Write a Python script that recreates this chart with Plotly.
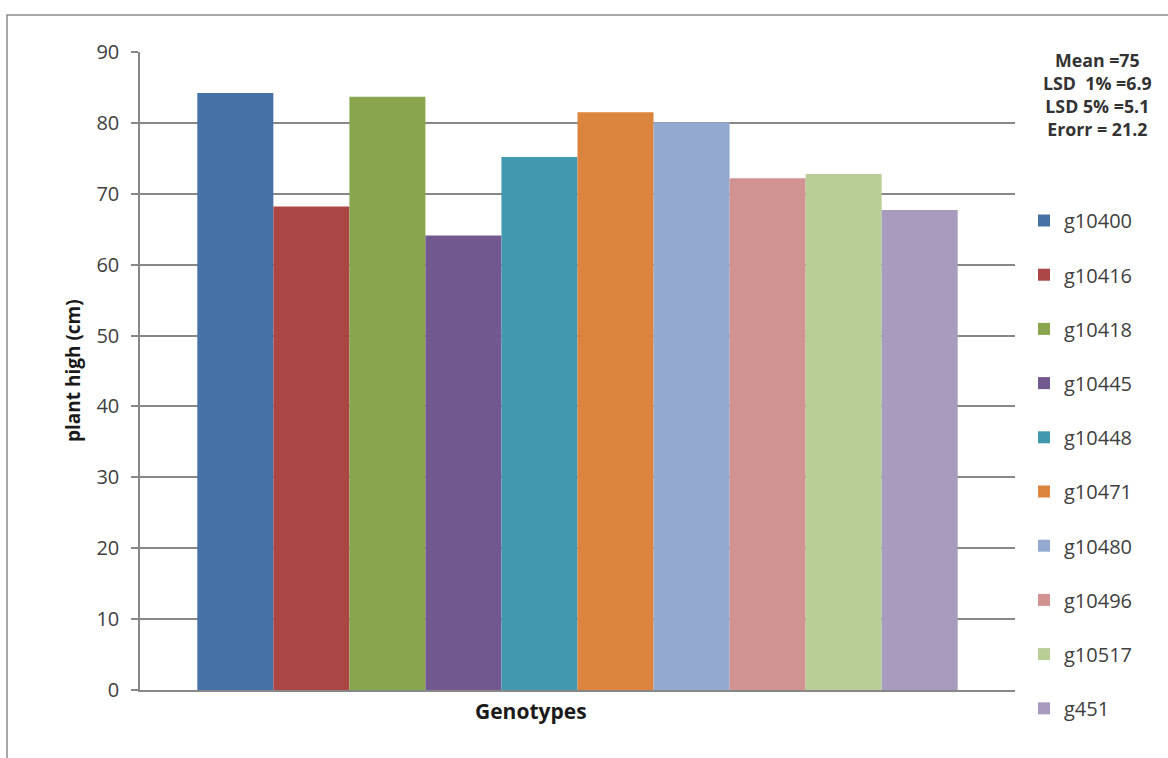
import plotly.graph_objects as go

# Plant height per genotype
genotypes = ["g10400", "g10416", "g10418", "g10445", "g10448",
             "g10471", "g10480", "g10496", "g10517", "g451"]
plant_height = [84.2, 68.2, 83.7, 64.1, 75.2, 81.5, 80.1, 72.2, 72.8, 67.7]
bar_colors = ["#4571A7", "#AA4744", "#89A54E", "#71588F", "#4198AF",
              "#DB843D", "#93A9CF", "#D19392", "#B9CD96", "#A99BBD"]
category = ["Genotypes"]
stats_lines = ["Mean =75", "LSD  1% =6.9", "LSD 5% =5.1", "Erorr = 21.2"]

W, H = 1168, 758
L, R, T, B = 140, 1015, 52, 690  # plot area in pixels


def px_x(x):
    return (x - L) / (R - L)


def px_y(y):
    return (B - y) / (B - T)


FONT = "Open Sans"
GRAY = "#878787"

fig = go.Figure()
for name, val, col in zip(genotypes, plant_height, bar_colors):
    fig.add_trace(go.Bar(
        x=category, y=[val], name=name, legendgroup=name,
        marker=dict(color=col, line=dict(width=0)),
    ))

fig.update_layout(
    width=W, height=H,
    margin=dict(l=L, r=W - R, t=T, b=H - B),
    paper_bgcolor="white", plot_bgcolor="white",
    barmode="group", bargap=0.131, bargroupgap=0,
    font=dict(family=FONT, color="#404040"),
    showlegend=True,
    legend=dict(
        x=px_x(1024), xanchor="left",
        y=px_y(201), yanchor="top",
        font=dict(size=20, color="#404040", family=FONT),
        tracegroupgap=25.2, bgcolor="rgba(0,0,0,0)",
        itemclick=False, itemdoubleclick=False,
    ),
)

fig.update_xaxes(
    showticklabels=False, ticks="", showgrid=False,
    showline=True, linecolor=GRAY, linewidth=1.5,
    fixedrange=True,
)
fig.update_yaxes(
    range=[0, 90], tick0=0, dtick=10,
    ticks="outside", ticklen=7, tickcolor=GRAY, tickwidth=1.5,
    showline=True, linecolor=GRAY, linewidth=1.5,
    showgrid=True, gridcolor=GRAY, gridwidth=1.5,
    zeroline=False,
    tickfont=dict(size=20, color="#404040", family=FONT),
    ticklabelstandoff=8,
    fixedrange=True,
)

# Axis titles
fig.add_annotation(
    text="<b>plant high (cm)</b>", textangle=-90,
    xref="paper", yref="paper", x=px_x(73), y=px_y(371),
    xanchor="center", yanchor="middle", showarrow=False,
    font=dict(size=19, color="#1a1a1a", family=FONT),
)
fig.add_annotation(
    text="<b>Genotypes</b>",
    xref="paper", yref="paper", x=px_x(531), y=px_y(711),
    xanchor="center", yanchor="middle", showarrow=False,
    font=dict(size=21, color="#1a1a1a", family=FONT),
)

# Summary statistics block
fig.add_annotation(
    text="<b>" + "<br>".join(stats_lines) + "</b>",
    xref="paper", yref="paper", x=px_x(1097), y=px_y(94),
    xanchor="center", yanchor="middle", align="center", showarrow=False,
    font=dict(size=17.8, color="#333333", family=FONT),
)

# Chart frame
fig.add_shape(
    type="rect", xref="paper", yref="paper",
    x0=px_x(7), x1=px_x(1175), y0=px_y(770), y1=px_y(15),
    line=dict(color="#8c8c8c", width=1.5), fillcolor="rgba(0,0,0,0)",
    layer="below",
)

fig.write_html("out.html")
